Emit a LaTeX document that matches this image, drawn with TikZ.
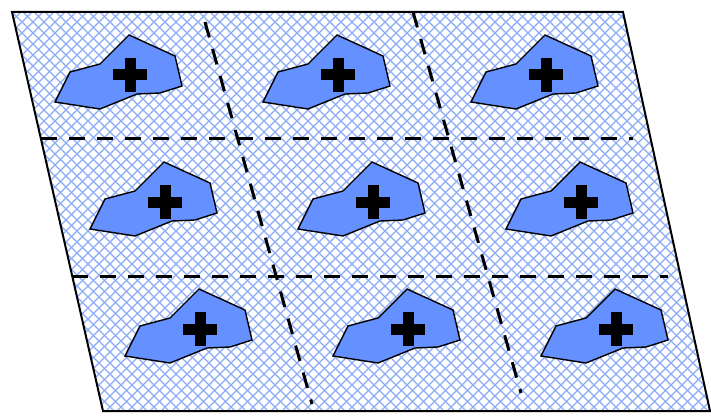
\documentclass[tikz,border=0pt]{standalone}
\definecolor{hatchblue}{RGB}{140,170,245}
\definecolor{blobblue}{RGB}{100,145,255}
\tikzset{
  hatch/.style={draw=hatchblue, line width=1.1pt},
  blob/.style={draw=black, fill=blobblue, line width=1.4pt, line join=miter},
  divider/.style={draw=black, line width=3pt, dash pattern=on 16pt off 12pt},
  frame/.style={draw=black, line width=2pt, line join=miter}
}
\begin{document}
\begin{tikzpicture}[x=1pt,y=-1pt]
\useasboundingbox (0,0) rectangle (711,417);
\coordinate (TL) at (12,12);
\coordinate (TR) at (623,12);
\coordinate (BR) at (710,411);
\coordinate (BL) at (103,411);
\begin{scope}
  \clip (TL)--(TR)--(BR)--(BL)--cycle;
  \foreach \c in {-440,-429,...,1200} {
    \draw[hatch] (\c,0) -- ++(440,440);
    \draw[hatch] (\c,0) -- ++(-440,440);
  }
\end{scope}
\foreach \r in {0,1,2} {
  \foreach \c in {0,1,2} {
    \begin{scope}[shift={(208*\c+35*\r,127*\r)}]
      \draw[blob] (55,102)--(70,72)--(100,64)--(129,35)--(175,56)--(182,86)--(160,93)--(137,94)--(100,109)--cycle;
      \fill (113,69.5) rectangle (147,80.5);
      \fill (124.5,58) rectangle (135.5,92);
    \end{scope}
  }
}
\coordinate (h1a) at (41,138);
\coordinate (h1b) at (633,138);
\coordinate (h2a) at (72,276);
\coordinate (h2b) at (668,276);
\coordinate (v1a) at (205,22);
\coordinate (v1b) at (312,404);
\coordinate (v2a) at (413,12);
\coordinate (v2b) at (521,393);
\draw[divider] (h1a) -- (h1b);
\draw[divider] (h2a) -- (h2b);
\draw[divider] (v1a) -- (v1b);
\draw[divider] (v2a) -- (v2b);
\draw[frame] (TL)--(TR)--(BR)--(BL)--cycle;
\end{tikzpicture}
\end{document}
